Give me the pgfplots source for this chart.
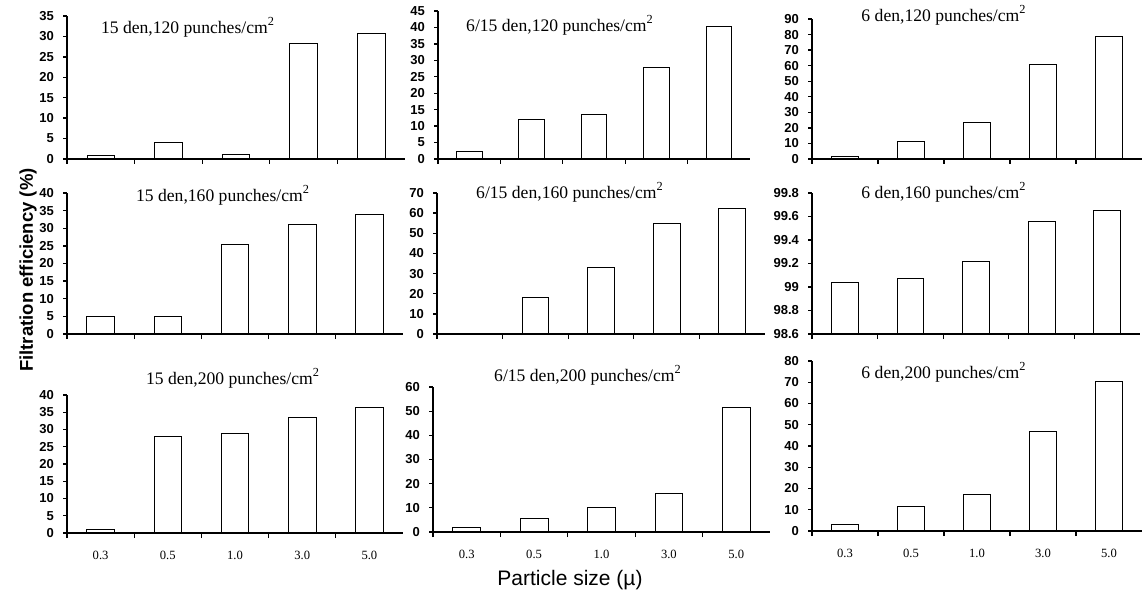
\documentclass[border=0pt]{standalone}
\usepackage{fontspec}
\setmainfont{Liberation Serif}
\setsansfont{Liberation Sans}
\usepackage{pgfplots}
\pgfplotsset{compat=1.18}
\pgfplotsset{
  panel/.style={
    scale only axis,
    anchor=south west,
    axis on top,
    axis x line*=bottom, axis y line*=left,
    xmin=-0.5, xmax=4.5,
    xtick={0,...,4}, xticklabels={0.3,0.5,1.0,3.0,5.0},
    major x tick style={draw=none},
    minor xtick={-0.5,0.5,1.5,2.5,3.5},
    tick align=outside,
    major tick length=2pt,
    minor tick length=2.5pt,
    axis line style={line width=0.7pt, black},
    every tick/.style={black, line width=0.65pt},
    /pgf/number format/assume math mode=true,
    yticklabel style={font=\sffamily\bfseries\fontsize{6.5}{7}\selectfont, xshift=-1pt},
    xticklabel style={font=\rmfamily\fontsize{6.3}{7}\selectfont, yshift=-3.5pt},
    ybar, bar width=0.41,
    cycle list={{fill=white, draw=black, line width=0.9pt}},
  },
  nox/.style={xticklabels={,,,,}},
}
\newcommand{\ttl}[1]{{\rmfamily\fontsize{8.8}{10}\selectfont #1 punches/cm\textsuperscript{2}}}
\begin{document}
\begin{tikzpicture}
% Row 1
\begin{axis}[panel, nox, at={(33.5pt,217.5pt)}, width=169pt, height=71.5pt,
  ymin=0, ymax=35, ytick={0,5,...,35}]
\addplot coordinates {(0,1.0) (1,4.0) (2,1.2) (3,28.2) (4,30.7)};
\end{axis}
\begin{axis}[panel, nox, at={(219pt,217.5pt)}, width=156pt, height=74pt,
  ymin=0, ymax=45, ytick={0,5,...,45}]
\addplot coordinates {(0,2.3) (1,12.0) (2,13.5) (3,28.0) (4,40.3)};
\end{axis}
\begin{axis}[panel, nox, at={(406pt,217.5pt)}, width=165pt, height=70pt,
  ymin=0, ymax=90, ytick={0,10,...,90}]
\addplot coordinates {(0,1.5) (1,11.5) (2,23.5) (3,60.5) (4,78.5)};
\end{axis}
% Row 2
\begin{axis}[panel, nox, at={(33.5pt,130pt)}, width=168pt, height=70.5pt,
  ymin=0, ymax=40, ytick={0,5,...,40}]
\addplot coordinates {(0,5.0) (1,5.0) (2,25.5) (3,31.0) (4,33.8)};
\end{axis}
\begin{axis}[panel, nox, at={(218.5pt,130pt)}, width=164pt, height=70.5pt,
  ymin=0, ymax=70, ytick={0,10,...,70}]
\addplot coordinates {(0,0.5) (1,18.0) (2,33.0) (3,55.0) (4,62.5)};
\end{axis}
\begin{axis}[panel, nox, at={(406pt,130pt)}, width=164pt, height=70.5pt,
  ymin=98.6, ymax=99.8, ytick={98.6,98.8,99.0,99.2,99.4,99.6,99.8},
  yticklabels={98.6,98.8,99,99.2,99.4,99.6,99.8}]
\addplot coordinates {(0,99.04) (1,99.07) (2,99.22) (3,99.56) (4,99.65)};
\end{axis}
% Row 3
\begin{axis}[panel, at={(33.5pt,30.5pt)}, width=168pt, height=69pt,
  ymin=0, ymax=40, ytick={0,5,...,40}]
\addplot coordinates {(0,1.0) (1,28.0) (2,29.0) (3,33.5) (4,36.5)};
\end{axis}
\begin{axis}[panel, at={(216.5pt,31pt)}, width=168.5pt, height=72.5pt,
  ymin=0, ymax=60, ytick={0,10,...,60}]
\addplot coordinates {(0,2.0) (1,5.5) (2,10.0) (3,16.0) (4,51.5)};
\end{axis}
\begin{axis}[panel, at={(406pt,31.5pt)}, width=165pt, height=85pt,
  ymin=0, ymax=80, ytick={0,10,...,80}]
\addplot coordinates {(0,3.0) (1,11.5) (2,17.0) (3,47.0) (4,70.5)};
\end{axis}
% Titles
\node at (94pt,283.5pt) {\ttl{15 den,120}};
\node at (280pt,284.5pt) {\ttl{6/15 den,120}};
\node at (472pt,289.5pt) {\ttl{6 den,120}};
\node at (111.5pt,199.5pt) {\ttl{15 den,160}};
\node at (285pt,201pt) {\ttl{6/15 den,160}};
\node at (472pt,201pt) {\ttl{6 den,160}};
\node at (116.5pt,108pt) {\ttl{15 den,200}};
\node at (294pt,109.5pt) {\ttl{6/15 den,200}};
\node at (472pt,111pt) {\ttl{6 den,200}};
% Axis labels
\node[rotate=90, font=\sffamily\bfseries\fontsize{9.25}{11}\selectfont] at (14pt,162pt) {Filtration efficiency (\%)};
\node[font=\sffamily\fontsize{10.5}{12}\selectfont] at (285pt,7pt) {Particle size (µ)};
\pgfresetboundingbox
\useasboundingbox (0,0) rectangle (571.5pt,297pt);
\end{tikzpicture}
\end{document}
